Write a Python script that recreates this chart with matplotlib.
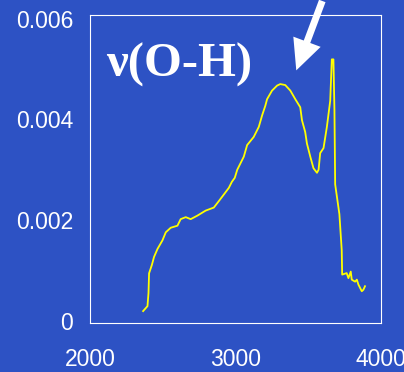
import numpy as np
import matplotlib.pyplot as plt
from matplotlib.patches import FancyArrowPatch

# IR spectrum, O-H stretching region
wavenumber = [2365, 2395, 2402, 2406, 2425, 2440, 2464, 2498, 2521, 2555,
              2601, 2623, 2658, 2692, 2738, 2795, 2851, 2886, 2920, 2954,
              2975, 2995, 3012, 3057, 3080, 3125, 3160, 3183, 3205, 3217,
              3251, 3286, 3308, 3342, 3377, 3411, 3445, 3457, 3479, 3491,
              3514, 3536, 3560, 3571, 3582, 3605, 3628, 3651, 3662, 3673,
              3680, 3685, 3714, 3730, 3733, 3764, 3776, 3792, 3799, 3822,
              3834, 3845, 3868, 3879, 3890]
absorb = [0.000196, 0.000294, 0.000554, 0.000946, 0.00111, 0.00127, 0.00143,
          0.00160, 0.00176, 0.00185, 0.00189, 0.00202, 0.00206, 0.00202,
          0.00209, 0.00219, 0.00225, 0.00238, 0.00251, 0.00264, 0.00276,
          0.00284, 0.00300, 0.00326, 0.00349, 0.00365, 0.00385, 0.00408,
          0.00427, 0.00440, 0.00457, 0.00467, 0.00470, 0.00468, 0.00457,
          0.00440, 0.00424, 0.00398, 0.00375, 0.00352, 0.00326, 0.00303,
          0.00294, 0.00300, 0.00333, 0.00343, 0.00385, 0.00437, 0.00519,
          0.00519, 0.00418, 0.00271, 0.00212, 0.00141, 0.00092, 0.00095,
          0.00085, 0.00098, 0.00082, 0.00078, 0.00082, 0.00072, 0.00059,
          0.00062, 0.00069]

xticks = [2000, 3000, 4000]
yticks = [0, 0.002, 0.004, 0.006]
ylabels = ["0", "0.002", "0.004", "0.006"]

bg = "#2D52C4"
fig = plt.figure(figsize=(4.04, 3.72), dpi=100, facecolor=bg)
ax = fig.add_axes([90/404, 49/372, 291/404, 308/372], facecolor=bg)

ax.plot(wavenumber, absorb, color="#FFFF00", lw=1.3)

ax.set_xlim(2000, 4000)
ax.set_ylim(-0.00004, 0.00607)
ax.set_xticks(xticks)
ax.set_yticks(yticks)
ax.set_yticklabels(ylabels)
for s in ax.spines.values():
    s.set_color("white")
    s.set_linewidth(0.8)
ax.tick_params(axis="both", length=0, colors="white", labelsize=16.5,
               labelfontfamily="Liberation Sans")
ax.tick_params(axis="x", pad=18)
ax.tick_params(axis="y", pad=12)

ax.text(2108, 0.00484, "\u03bd(O-H)", color="white", fontsize=35,
        fontweight="bold", family="Liberation Serif", va="baseline")

arr = FancyArrowPatch((3603, 0.0064), (3411, 0.00492),
                      arrowstyle="simple,head_width=2.1,head_length=2.2,tail_width=0.5",
                      mutation_scale=10, color="white", lw=0, clip_on=False)
ax.add_patch(arr)

fig.savefig("out.png", dpi=100, facecolor=bg)
